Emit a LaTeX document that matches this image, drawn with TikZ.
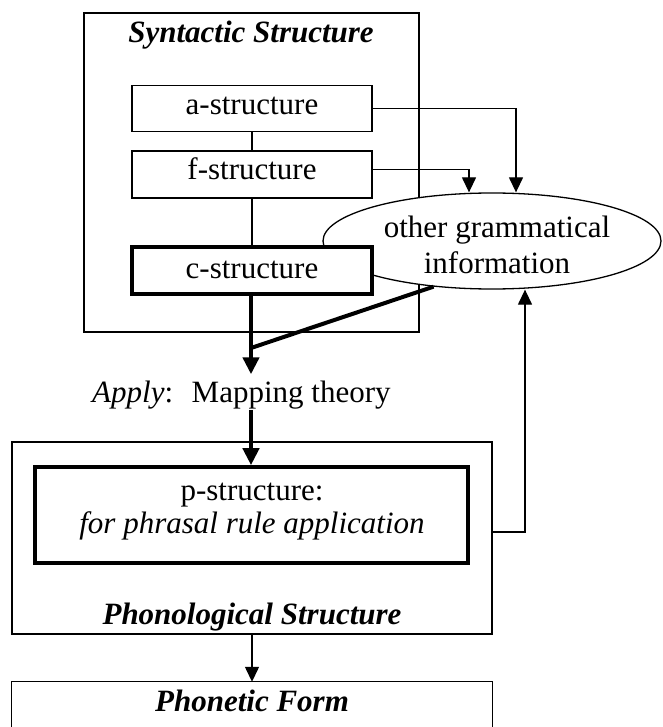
\documentclass[tikz,border=0pt]{standalone}
\usepackage{fontspec}
\setmainfont{Liberation Serif}
\usetikzlibrary{arrows.meta,shapes.geometric,calc}
\begin{document}
\begin{tikzpicture}[x=1pt,y=-1pt,
  thinline/.style={line width=1.3pt},
  box/.style={draw, line width=1.3pt, fill=white, inner sep=0pt},
  heavybox/.style={draw, line width=3.6pt, fill=white, inner sep=0pt},
  lbl/.style={anchor=base, inner sep=0pt, font=\fontsize{31}{35}\selectfont},
  headlbl/.style={anchor=base, inner sep=0pt, font=\fontsize{31}{35}\selectfont\bfseries\itshape},
  thinarrow/.style={line width=1.3pt, -{Triangle[length=15pt,width=14pt]}},
  heavyarrow/.style={line width=4.5pt, -{Triangle[length=17pt,width=16pt]}},
]
\useasboundingbox (0,0) rectangle (662,727);

% syntactic structure frame
\node[box, minimum width=335pt, minimum height=319pt] (syn) at (251.5,172.5) {};
\node[headlbl] (syntitle) at (251,43) {Syntactic Structure};

% ellipse of other information, over the frame edge
\node[draw, ellipse, line width=1.3pt, fill=white, minimum width=338pt,
      minimum height=96pt, inner sep=0pt] (oth) at (492,241) {};
\node[lbl] (oth1) at (497,237) {other grammatical};
\node[lbl] (oth2) at (497,273) {information};

% the three syntactic levels
\node[box, minimum width=240pt, minimum height=46pt] (a) at (252,108.5) {};
\node[box, minimum width=240pt, minimum height=47pt] (f) at (252,174.5) {};
\draw[thinline] (a.south) -- (f.north);
\node[heavybox, minimum width=240pt, minimum height=47pt] (c) at (252,270.5) {};
\draw[thinline] (f.south) -- (c.north);
\node[lbl] (atext) at (252,115) {a-structure};
\node[lbl] (ftext) at (252,180) {f-structure};
\node[lbl] (ctext) at (252,278) {c-structure};

% a- and f-structure feed the ellipse
\draw[thinarrow] (a.east) -| ([xshift=24pt]oth.north);
\draw[thinarrow] ([yshift=5pt]f.east) -| ([xshift=-23pt]oth.north);

% mapping step
\node[lbl, anchor=base west] (map) at (92,402)
  {\textit{Apply}:\hspace{0.6em}Mapping theory};
\coordinate (join) at (251,348);
\draw[line width=4.5pt] (c.south -| join) -- (join);
\draw[line width=4pt] (oth.218) -- (join);
\draw[heavyarrow] (join) -- ([yshift=6pt]map.north -| join);

% phonological structure
\node[box, minimum width=480pt, minimum height=192pt] (phon) at (252,538) {};
\node[heavybox, minimum width=433pt, minimum height=96pt] (p) at (251.5,515) {};
\node[lbl] (ptext1) at (252,500) {p-structure:};
\node[lbl] (ptext2) at (252,533) {\textit{for phrasal rule application}};
\node[headlbl] (phontitle) at (252,624) {Phonological Structure};
\draw[heavyarrow] ([yshift=-1pt]map.south -| join) -- (p.north -| join);

% feedback into the ellipse
\coordinate (fb) at (525,532);
\draw[thinarrow] (phon.east |- fb) -- (fb) -- (fb |- oth.south);

% phonetic form, open at the lower edge
\node[minimum width=480pt, minimum height=45pt, inner sep=0pt] (pf) at (252,704.5) {};
\draw[thinline] (pf.south west) -- (pf.north west) -- (pf.north east) -- (pf.south east);
\node[headlbl] (pftitle) at (252,711) {Phonetic Form};
\draw[thinarrow] (phon.south) -- (pf.north);
\end{tikzpicture}
\end{document}
